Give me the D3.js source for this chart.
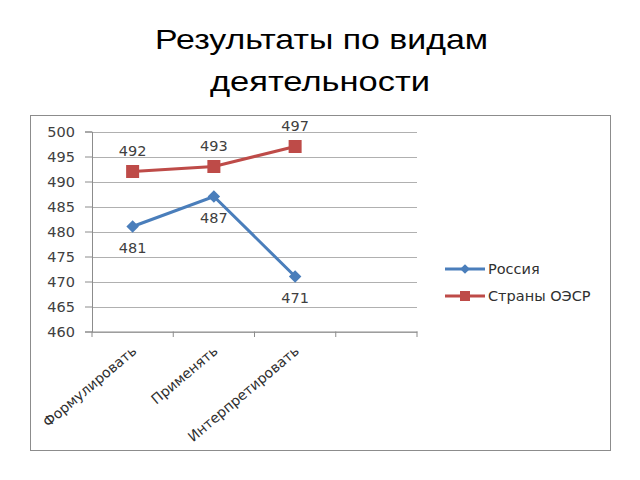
<!DOCTYPE html>
<html><head><meta charset="utf-8">
<script src="https://cdn.jsdelivr.net/npm/d3@7"></script>
<style>body{margin:0;background:#fff}</style>
</head><body>
<svg id="c" width="640" height="480"></svg>
<script>
const categories = ["Формулировать", "Применять", "Интерпретировать", ""];
const russia = [481, 487, 471];
const oecd = [492, 493, 497];
const seriesNames = ["Россия", "Страны ОЭСР"];
const yTicks = [460, 465, 470, 475, 480, 485, 490, 495, 500];
const titleLines = ["Результаты по видам", "деятельности"];

const svg = d3.select("#c");
const tFont = "Liberation Sans, Arial, sans-serif";
const font = "DejaVu Sans, Verdana, sans-serif";
const blue = "#4A7EBB", red = "#BE4B48";

// title (slightly stretched horizontally like the reference)
svg.append("text").attr("x", 321.5).attr("y", 49).attr("text-anchor", "middle")
  .attr("font-family", tFont).attr("font-size", 28).attr("fill", "#000")
  .attr("textLength", 333).attr("lengthAdjust", "spacingAndGlyphs").text(titleLines[0]);
svg.append("text").attr("x", 320).attr("y", 91).attr("text-anchor", "middle")
  .attr("font-family", tFont).attr("font-size", 28).attr("fill", "#000")
  .attr("textLength", 220).attr("lengthAdjust", "spacingAndGlyphs").text(titleLines[1]);

// chart border
svg.append("rect").attr("x", 30.5).attr("y", 115.5).attr("width", 580).attr("height", 335)
  .attr("fill", "#fff").attr("stroke", "#8c8c8c").attr("stroke-width", 1);

const x = d3.scaleBand().domain(d3.range(categories.length)).range([92, 417]);
const y = d3.scaleLinear().domain([460, 500]).range([331.5, 131.5]);

// gridlines
svg.append("g").selectAll("line").data(yTicks).join("line")
  .attr("x1", 92).attr("x2", 417).attr("y1", d => Math.round(y(d)) + 0.5).attr("y2", d => Math.round(y(d)) + 0.5)
  .attr("stroke", "#b0b0b0").attr("stroke-width", 1);

// y axis
const yAxis = svg.append("g").attr("transform", "translate(92,0)")
  .call(d3.axisLeft(y).tickValues(yTicks).tickSize(7).tickPadding(10));
yAxis.select(".domain").attr("stroke", "#8c8c8c");
yAxis.selectAll(".tick line").attr("stroke", "#8c8c8c");
yAxis.selectAll("text").attr("font-family", font).attr("font-size", 14.5).attr("fill", "#404040");

// x axis
const xAxis = svg.append("g").attr("transform", "translate(0,331.5)")
  .call(d3.axisBottom(x).tickFormat(i => categories[i]).tickSize(0));
xAxis.select(".domain").attr("stroke", "#8c8c8c");
xAxis.selectAll("text").attr("font-family", font).attr("font-size", 14).attr("fill", "#303030")
  .attr("text-anchor", "end").attr("x", 0).attr("y", 0).attr("dy", 0)
  .attr("transform", "translate(5,21) rotate(-40)");
// band boundary ticks
svg.append("g").selectAll("line").data(d3.range(categories.length + 1)).join("line")
  .attr("x1", i => 92 + i * x.step()).attr("x2", i => 92 + i * x.step())
  .attr("y1", 331.5).attr("y2", 337).attr("stroke", "#8c8c8c");

const cx = i => x(i) + x.bandwidth() / 2;
const line = d3.line().x((d, i) => cx(i)).y(d => y(d));

// OECD
svg.append("path").datum(oecd).attr("d", line).attr("fill", "none").attr("stroke", red).attr("stroke-width", 3);
svg.append("g").selectAll("rect").data(oecd).join("rect")
  .attr("x", (d, i) => cx(i) - 6.5).attr("y", d => y(d) - 6.5).attr("width", 13).attr("height", 13).attr("fill", red);
svg.append("g").selectAll("text").data(oecd).join("text")
  .attr("x", (d, i) => cx(i)).attr("y", d => y(d) - 15.5).attr("text-anchor", "middle")
  .attr("font-family", font).attr("font-size", 14.5).attr("fill", "#404040").text(d => d);

// Russia
svg.append("path").datum(russia).attr("d", line).attr("fill", "none").attr("stroke", blue).attr("stroke-width", 3);
svg.append("g").selectAll("path.m").data(russia).join("path")
  .attr("d", d3.symbol().type(d3.symbolDiamond2).size(100))
  .attr("transform", (d, i) => `translate(${cx(i)},${y(d)})`).attr("fill", blue);
svg.append("g").selectAll("text").data(russia).join("text")
  .attr("x", (d, i) => cx(i)).attr("y", d => y(d) + 26.5).attr("text-anchor", "middle")
  .attr("font-family", font).attr("font-size", 14.5).attr("fill", "#404040").text(d => d);

// legend
const leg = svg.append("g");
[[blue, "d"], [red, "s"]].forEach(([col, m], k) => {
  const ly = 269 + k * 27;
  leg.append("line").attr("x1", 445).attr("x2", 485).attr("y1", ly).attr("y2", ly).attr("stroke", col).attr("stroke-width", 3);
  if (m === "d") leg.append("path").attr("d", d3.symbol().type(d3.symbolDiamond2).size(60)).attr("transform", `translate(465,${ly})`).attr("fill", col);
  else leg.append("rect").attr("x", 460).attr("y", ly - 5).attr("width", 10).attr("height", 10).attr("fill", col);
  leg.append("text").attr("x", 488).attr("y", ly).attr("dy", "0.36em").attr("font-family", font).attr("font-size", 14.5).attr("fill", "#303030").text(seriesNames[k]);
});
</script>
</body></html>
